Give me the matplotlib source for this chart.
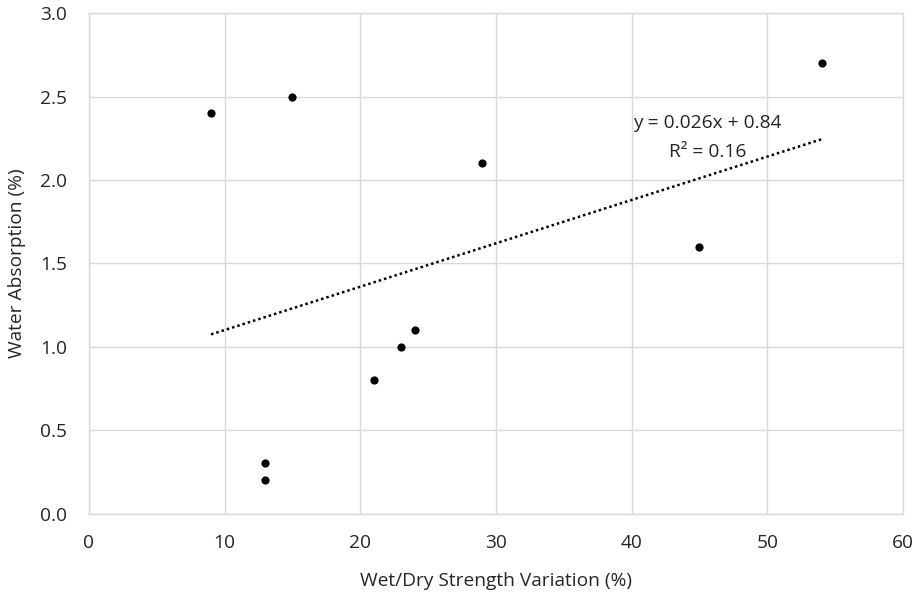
import matplotlib
matplotlib.use("Agg")
import matplotlib.pyplot as plt
import numpy as np

plt.rcParams['font.family'] = ['Open Sans', 'DejaVu Sans']

x_vals = [9, 15, 13, 13, 21, 23, 24, 29, 45, 54]
y_vals = [2.4, 2.5, 0.3, 0.2, 0.8, 1.0, 1.1, 2.1, 1.6, 2.7]
slope = 0.026
intercept = 0.84
eq_text = "y = 0.026x + 0.84"
r2_text = "R² = 0.16"
x_ticks = [0, 10, 20, 30, 40, 50, 60]
y_ticks = [0.0, 0.5, 1.0, 1.5, 2.0, 2.5, 3.0]

FS = 13.8

fig = plt.figure(figsize=(9.2, 5.98), dpi=100)
ax = fig.add_axes([0.0967, 0.1413, 0.8848, 0.8367])

ax.set_xlim(0, 60)
ax.set_ylim(0, 3.0)
ax.set_xticks(x_ticks)
ax.set_yticks(y_ticks)
ax.set_yticklabels([f"{v:.1f}" for v in y_ticks])
ax.grid(True, color='#d9d9d9', linewidth=1)
ax.set_axisbelow(True)
for s in ax.spines.values():
    s.set_color('#d9d9d9')
    s.set_linewidth(1)
ax.tick_params(length=0, labelsize=FS, colors='#262626')
ax.tick_params(axis='y', pad=16)
ax.tick_params(axis='x', pad=15)

xs = np.array([min(x_vals), max(x_vals)])
ax.plot(xs, slope * xs + intercept, color='black', linestyle=(0, (1, 1.2)), linewidth=1.8)
ax.scatter(x_vals, y_vals, s=24, color='black', zorder=3)

ax.text(45.6, 2.34, eq_text, ha='center', va='center', fontsize=FS, color='#262626')
ax.text(45.6, 2.167, r2_text, ha='center', va='center', fontsize=FS, color='#262626')

ax.set_xlabel("Wet/Dry Strength Variation (%)", fontsize=FS, color='#262626', labelpad=14)
ax.set_ylabel("Water Absorption (%)", fontsize=FS, color='#262626', labelpad=10)

fig.savefig("out.png", dpi=100)
